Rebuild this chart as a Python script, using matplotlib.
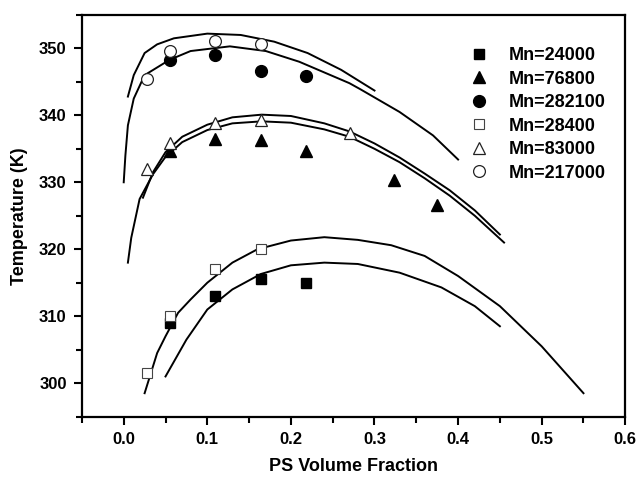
import matplotlib.pyplot as plt
from matplotlib.ticker import MultipleLocator

plt.rcParams['font.family'] = ['Liberation Sans', 'DejaVu Sans']
plt.rcParams['font.weight'] = 'bold'

# measured cloud points
sq_filled_x = [0.055, 0.109, 0.164, 0.218]
sq_filled_y = [309.0, 313.0, 315.5, 315.0]
tri_filled_x = [0.055, 0.109, 0.164, 0.218, 0.323, 0.375]
tri_filled_y = [334.6, 336.4, 336.3, 334.6, 330.4, 326.6]
circ_filled_x = [0.055, 0.109, 0.164, 0.218]
circ_filled_y = [348.2, 349.0, 346.6, 345.8]
sq_open_x = [0.028, 0.055, 0.109, 0.164]
sq_open_y = [301.5, 310.0, 317.0, 320.0]
tri_open_x = [0.028, 0.055, 0.109, 0.164, 0.271]
tri_open_y = [332.0, 335.8, 338.9, 339.3, 337.4]
circ_open_x = [0.028, 0.055, 0.109, 0.164]
circ_open_y = [345.4, 349.6, 351.1, 350.6]

# fitted curves
sq_fit1_x = [0.025, 0.04, 0.05, 0.065, 0.08, 0.10, 0.13, 0.16, 0.20, 0.24, 0.28, 0.32, 0.36, 0.40, 0.45, 0.50, 0.55]
sq_fit1_y = [298.5, 304.5, 307.0, 310.5, 312.5, 315.0, 318.0, 320.0, 321.3, 321.8, 321.4, 320.6, 319.0, 316.0, 311.5, 305.5, 298.5]
sq_fit2_x = [0.05, 0.075, 0.10, 0.13, 0.164, 0.20, 0.24, 0.28, 0.33, 0.38, 0.42, 0.45]
sq_fit2_y = [301.0, 306.5, 311.0, 314.0, 316.3, 317.6, 318.0, 317.8, 316.5, 314.3, 311.5, 308.5]

tri_fit1_x = [0.023, 0.035, 0.05, 0.07, 0.10, 0.13, 0.165, 0.20, 0.24, 0.27, 0.30, 0.33, 0.36, 0.39, 0.42, 0.45]
tri_fit1_y = [327.7, 331.5, 334.5, 336.8, 338.6, 339.7, 340.1, 339.9, 338.8, 337.6, 335.8, 333.7, 331.3, 328.8, 325.8, 322.2]
tri_fit2_x = [0.005, 0.009, 0.019, 0.035, 0.05, 0.07, 0.10, 0.13, 0.165, 0.20, 0.24, 0.27, 0.30, 0.33, 0.36, 0.39, 0.42, 0.455]
tri_fit2_y = [318.0, 321.7, 327.5, 331.2, 333.8, 336.0, 337.8, 338.8, 339.1, 338.9, 337.9, 336.8, 335.0, 333.0, 330.6, 328.0, 325.0, 321.0]

circ_fit1_x = [0.005, 0.012, 0.025, 0.04, 0.06, 0.10, 0.14, 0.18, 0.22, 0.26, 0.30]
circ_fit1_y = [342.8, 346.0, 349.3, 350.6, 351.5, 352.2, 352.0, 351.0, 349.3, 346.8, 343.7]
circ_fit2_x = [0.0, 0.002, 0.005, 0.012, 0.025, 0.055, 0.08, 0.127, 0.17, 0.21, 0.27, 0.283, 0.33, 0.37, 0.40]
circ_fit2_y = [330.0, 334.0, 338.5, 342.5, 346.0, 348.3, 349.6, 350.3, 349.6, 348.0, 344.8, 343.9, 340.5, 337.0, 333.4]

fig = plt.figure(figsize=(6.4, 4.8), dpi=100)
ax = fig.add_axes([0.128, 0.132, 0.849, 0.837])

lw = 1.4
for xs, ys in [(sq_fit1_x, sq_fit1_y), (sq_fit2_x, sq_fit2_y),
               (tri_fit1_x, tri_fit1_y), (tri_fit2_x, tri_fit2_y),
               (circ_fit1_x, circ_fit1_y), (circ_fit2_x, circ_fit2_y)]:
    ax.plot(xs, ys, color='black', lw=lw, zorder=2)

ax.plot(sq_filled_x, sq_filled_y, 's', color='black', ms=7.5, ls='none', label='Mn=24000', zorder=3)
ax.plot(tri_filled_x, tri_filled_y, '^', color='black', ms=9, ls='none', label='Mn=76800', zorder=3)
ax.plot(circ_filled_x, circ_filled_y, 'o', color='black', ms=8.5, ls='none', label='Mn=282100', zorder=3)
ax.plot(sq_open_x, sq_open_y, 's', mfc='white', mec='#444444', mew=0.8, ms=7.5, ls='none', label='Mn=28400', zorder=3)
ax.plot(tri_open_x, tri_open_y, '^', mfc='white', mec='#222222', mew=0.9, ms=9, ls='none', label='Mn=83000', zorder=3)
ax.plot(circ_open_x, circ_open_y, 'o', mfc='white', mec='#222222', mew=0.9, ms=8.5, ls='none', label='Mn=217000', zorder=3)

ax.set_xlim(-0.05, 0.6)
ax.set_ylim(295, 355)
ax.xaxis.set_major_locator(MultipleLocator(0.1))
ax.xaxis.set_minor_locator(MultipleLocator(0.05))
ax.yaxis.set_major_locator(MultipleLocator(10))
ax.yaxis.set_minor_locator(MultipleLocator(5))
ax.set_xticks([0.0, 0.1, 0.2, 0.3, 0.4, 0.5, 0.6])
ax.set_xticklabels(['0.0', '0.1', '0.2', '0.3', '0.4', '0.5', '0.6'])

ax.tick_params(which='major', direction='out', length=6, width=1.5, labelsize=12, pad=5)
ax.tick_params(which='minor', direction='out', length=4, width=1.5)
for sp in ax.spines.values():
    sp.set_linewidth(1.6)

ax.set_xlabel('PS Volume Fraction', fontsize=13, fontweight='bold', labelpad=8)
ax.set_ylabel('Temperature (K)', fontsize=13, fontweight='bold', labelpad=8)

ax.legend(loc='upper left', bbox_to_anchor=(0.698, 0.938), frameon=False,
          handlelength=1.2, handletextpad=1.05, labelspacing=0.36,
          borderaxespad=0, prop={'size': 13, 'weight': 'bold'})

fig.savefig('out.png', dpi=100)
